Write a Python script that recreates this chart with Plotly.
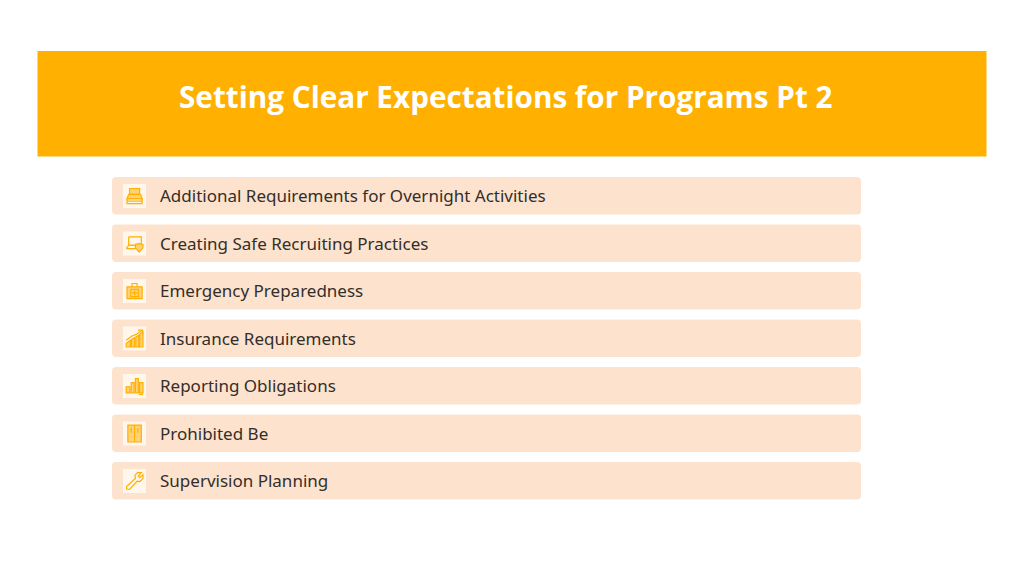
import plotly.graph_objects as go

title = 'Setting Clear Expectations for Programs Pt 2'
items = [
    'Additional Requirements for Overnight Activities',
    'Creating Safe Recruiting Practices',
    'Emergency Preparedness',
    'Insurance Requirements',
    'Reporting Obligations',
    'Prohibited Be',
    'Supervision Planning',
]

ORANGE = '#FFB000'
ROW = '#FDE3CD'
TEXT = '#332e2a'
FILL = '#FFD27A'

# icon outlines in a 24x24 box: (path points, filled?)
icons = [
    [([(6, 3), (18, 3), (18, 10), (6, 10)], True), ([(5, 10), (19, 10), (21, 15), (3, 15)], True),
     ([(3, 15), (21, 15), (21, 21), (3, 21), (3, 15)], False), ([(3, 18), (21, 18)], False)],
    [([(5, 4), (20, 4), (20, 14), (5, 14), (5, 4)], False), ([(2, 18), (13, 18), (15, 14), (5, 14), (2, 18)], False),
     ([(13, 13), (17.5, 12), (22, 13), (22, 17), (17.5, 22), (13, 17)], True)],
    [([(3, 7), (21, 7), (21, 21), (3, 21)], True), ([(9, 7), (9, 3), (15, 3), (15, 7)], False),
     ([(7.5, 10), (16.5, 10), (16.5, 18.5), (7.5, 18.5), (7.5, 10)], False), ([(12, 11.5), (12, 17)], False), ([(9, 14.2), (15, 14.2)], False)],
    [([(2, 22), (2, 18), (7, 14), (7, 22)], True), ([(8.5, 22), (8.5, 13), (12, 11), (12, 22)], True),
     ([(13.5, 22), (13.5, 10), (17, 8), (17, 22)], True), ([(18, 22), (18, 7), (22, 4), (22, 22)], True),
     ([(2, 14), (9, 9), (14, 7), (21, 2)], False), ([(16, 2), (21.5, 2), (21.5, 7)], False)],
    [([(2, 13), (6.5, 13), (6.5, 20), (2, 20)], True), ([(8, 8), (11.5, 8), (11.5, 20), (8, 20)], True),
     ([(13, 3), (16.5, 3), (16.5, 20), (13, 20)], True), ([(18, 8), (22, 8), (22, 20), (18, 20)], True),
     ([(17, 22), (22, 22)], False)],
    [([(4, 2), (20, 2), (20, 22), (4, 22)], True), ([(12, 2), (12, 22)], False),
     ([(8, 5), (8, 11)], False), ([(16, 5), (16, 11)], False)],
    [([(2.5, 18.5), (13, 9), (12.5, 5), (15.5, 2), (20, 2), (16.5, 6), (18, 8), (22, 4.5), (22, 9), (18.5, 12.5), (15, 12), (6, 22), (2.5, 21.5), (2.5, 18.5)], False)],
]

ROW_TOP = 177
ROW_STEP = 47.5
ROW_H = 37.5
ROW_X0, ROW_X1 = 112, 861


def rounded(x0, y0, x1, y1, r):
    return (f'M{x0 + r},{y0} L{x1 - r},{y0} Q{x1},{y0} {x1},{y0 + r} L{x1},{y1 - r} Q{x1},{y1} {x1 - r},{y1} '
            f'L{x0 + r},{y1} Q{x0},{y1} {x0},{y1 - r} L{x0},{y0 + r} Q{x0},{y0} {x0 + r},{y0} Z')


fig = go.Figure()
shapes = [dict(type='rect', x0=37.5, x1=986.5, y0=51, y1=156.5, fillcolor=ORANGE, line_width=0, layer='below')]
annotations = [dict(x=505.5, y=96.5, text=f'<b>{title}</b>', showarrow=False, xanchor='center', yanchor='middle',
                    font=dict(family='Open Sans', size=29.7, color='white'))]

for i, label in enumerate(items):
    top = ROW_TOP + i * ROW_STEP
    shapes.append(dict(type='path', path=rounded(ROW_X0, top, ROW_X1, top + ROW_H, 4), fillcolor=ROW, line_width=0, layer='below'))
    ix, iy = 123, top + 7
    shapes.append(dict(type='rect', x0=ix, x1=ix + 23, y0=iy, y1=iy + 24, fillcolor='#FFF6EC', line_width=0, layer='below'))
    for pts, filled in icons[i]:
        sx = ix + 1.5
        sy = iy + 2
        p = ' '.join(('M' if j == 0 else 'L') + f'{sx + a * 0.84},{sy + b * 0.84}' for j, (a, b) in enumerate(pts))
        if filled:
            p += ' Z'
        shapes.append(dict(type='path', path=p, fillcolor=FILL if filled else 'rgba(0,0,0,0)',
                           line=dict(color=ORANGE, width=1.2)))
    annotations.append(dict(x=158, y=top + ROW_H / 2, text=label, showarrow=False, xanchor='left', yanchor='middle',
                            font=dict(family='Noto Sans', size=17, color=TEXT)))

fig.update_layout(width=1024, height=576, margin=dict(l=0, r=0, t=0, b=0), paper_bgcolor='white', plot_bgcolor='white',
                  showlegend=False, shapes=shapes, annotations=annotations,
                  xaxis=dict(range=[0, 1024], visible=False, fixedrange=True),
                  yaxis=dict(range=[576, 0], visible=False, fixedrange=True))
# browser default body margin would push the page 8px
fig.write_html('out.html', post_script="document.body.style.margin='0';", config={'displayModeBar': False})
